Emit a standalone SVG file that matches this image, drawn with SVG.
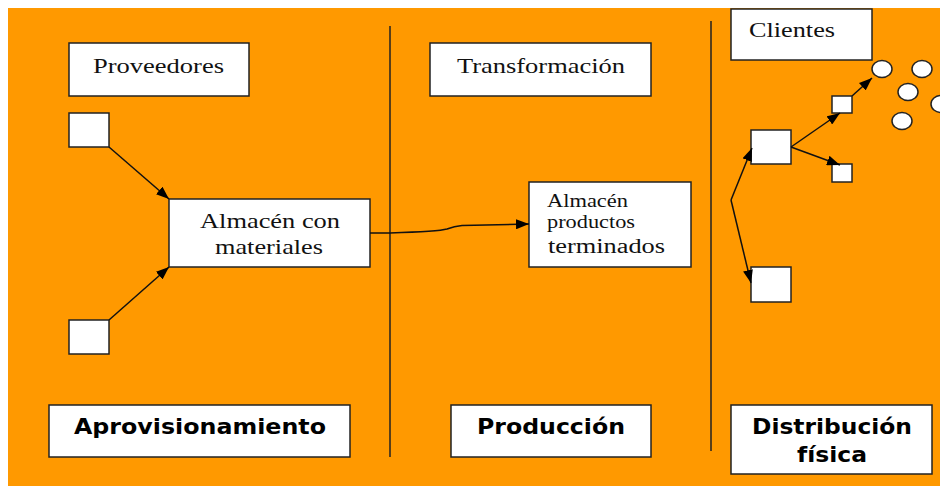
<svg xmlns="http://www.w3.org/2000/svg" width="940" height="486" viewBox="0 0 940 486">
<defs>
<style>
.box{fill:#fff;stroke:#222;stroke-width:1.5}
.sep{stroke:#222;stroke-width:1.5;fill:none}
.con{stroke:#111;stroke-width:1.5;fill:none;marker-end:url(#ah)}
.ser{font-family:"Liberation Serif","Times New Roman",serif;fill:#111}
.bold{font-family:"DejaVu Sans",Verdana,sans-serif;font-weight:bold;fill:#000;font-size:21px;text-anchor:middle}
.cir{fill:#fff;stroke:#222;stroke-width:1.5}
</style>
<marker id="ah" markerUnits="userSpaceOnUse" markerWidth="14" markerHeight="10" refX="13" refY="5" orient="auto">
<path d="M0,0 L13,5 L0,10 z" fill="#000"/>
</marker>
</defs>
<rect x="0" y="0" width="940" height="486" fill="#fff"/>
<rect x="8" y="8" width="932" height="478" fill="#FF9900"/>
<g id="separators">
<line class="sep" x1="390" y1="26" x2="390" y2="457"/>
<line class="sep" x1="711" y1="21" x2="711" y2="451"/>
</g>
<g id="proveedores">
<rect class="box" x="69" y="43" width="180" height="53"/>
<text class="ser" x="158.5" y="73" font-size="22" text-anchor="middle" textLength="131" lengthAdjust="spacingAndGlyphs">Proveedores</text>
</g>
<g id="prov1"><rect class="box" x="69" y="113" width="40" height="34"/></g>
<g id="prov2"><rect class="box" x="69" y="320" width="40" height="34"/></g>
<g id="almacen-materiales">
<rect class="box" x="169" y="199" width="201" height="68"/>
<text class="ser" x="270" y="228" font-size="22" text-anchor="middle" textLength="140" lengthAdjust="spacingAndGlyphs">Almacén con</text>
<text class="ser" x="269" y="254" font-size="22" text-anchor="middle" textLength="108" lengthAdjust="spacingAndGlyphs">materiales</text>
</g>
<g id="aprovisionamiento">
<rect class="box" x="49" y="405" width="301" height="52"/>
<text class="bold" x="200" y="434" textLength="252" lengthAdjust="spacingAndGlyphs">Aprovisionamiento</text>
</g>
<g id="transformacion">
<rect class="box" x="430" y="43" width="221" height="53"/>
<text class="ser" x="541" y="73" font-size="22" text-anchor="middle" textLength="168" lengthAdjust="spacingAndGlyphs">Transformación</text>
</g>
<g id="almacen-productos">
<rect class="box" x="529" y="182" width="162" height="85"/>
<text class="ser" x="547" y="207" font-size="18" textLength="81" lengthAdjust="spacingAndGlyphs">Almacén</text>
<text class="ser" x="547" y="228" font-size="18" textLength="88" lengthAdjust="spacingAndGlyphs">productos</text>
<text class="ser" x="548" y="253" font-size="20" textLength="117" lengthAdjust="spacingAndGlyphs">terminados</text>
</g>
<g id="produccion">
<rect class="box" x="451" y="405" width="200" height="52"/>
<text class="bold" x="551" y="434" textLength="148" lengthAdjust="spacingAndGlyphs">Producción</text>
</g>
<g id="clientes">
<rect class="box" x="731" y="9" width="141" height="51"/>
<text class="ser" x="749" y="37" font-size="22" textLength="86" lengthAdjust="spacingAndGlyphs">Clientes</text>
</g>
<g id="dist-main"><rect class="box" x="751" y="130" width="40" height="34"/></g>
<g id="dist-low"><rect class="box" x="751" y="267" width="40" height="35"/></g>
<g id="dist-top-small"><rect class="box" x="832" y="96" width="20" height="17"/></g>
<g id="dist-bot-small"><rect class="box" x="832" y="164" width="20" height="18"/></g>
<g id="client-circles">
<ellipse class="cir" cx="882" cy="69" rx="10" ry="8.5"/>
<ellipse class="cir" cx="922" cy="69" rx="10" ry="8.5"/>
<ellipse class="cir" cx="908" cy="92" rx="10" ry="8.5"/>
<ellipse class="cir" cx="941" cy="104" rx="10" ry="8.5"/>
<ellipse class="cir" cx="902" cy="121" rx="10" ry="8.5"/>
</g>
<g id="distribucion">
<rect class="box" x="731" y="405" width="201" height="69"/>
<text class="bold" x="832" y="434" textLength="160" lengthAdjust="spacingAndGlyphs">Distribución</text>
<text class="bold" x="832" y="462" textLength="70" lengthAdjust="spacingAndGlyphs">física</text>
</g>
<g id="connectors">
<line class="con" x1="109" y1="147" x2="169" y2="199"/>
<line class="con" x1="109" y1="320" x2="169" y2="267"/>
<path class="con" d="M370,233 L390,233 C420,232 440,231 447,229 C452,227 455,226 462,225.5 L529,224"/>
<line class="con" x1="731" y1="200" x2="752" y2="148"/>
<line class="con" x1="731" y1="200" x2="751" y2="283"/>
<line class="con" x1="791" y1="147" x2="840" y2="113"/>
<line class="con" x1="852" y1="96" x2="872" y2="78"/>
<line class="con" x1="791" y1="147" x2="840" y2="165"/>
</g>
</svg>
